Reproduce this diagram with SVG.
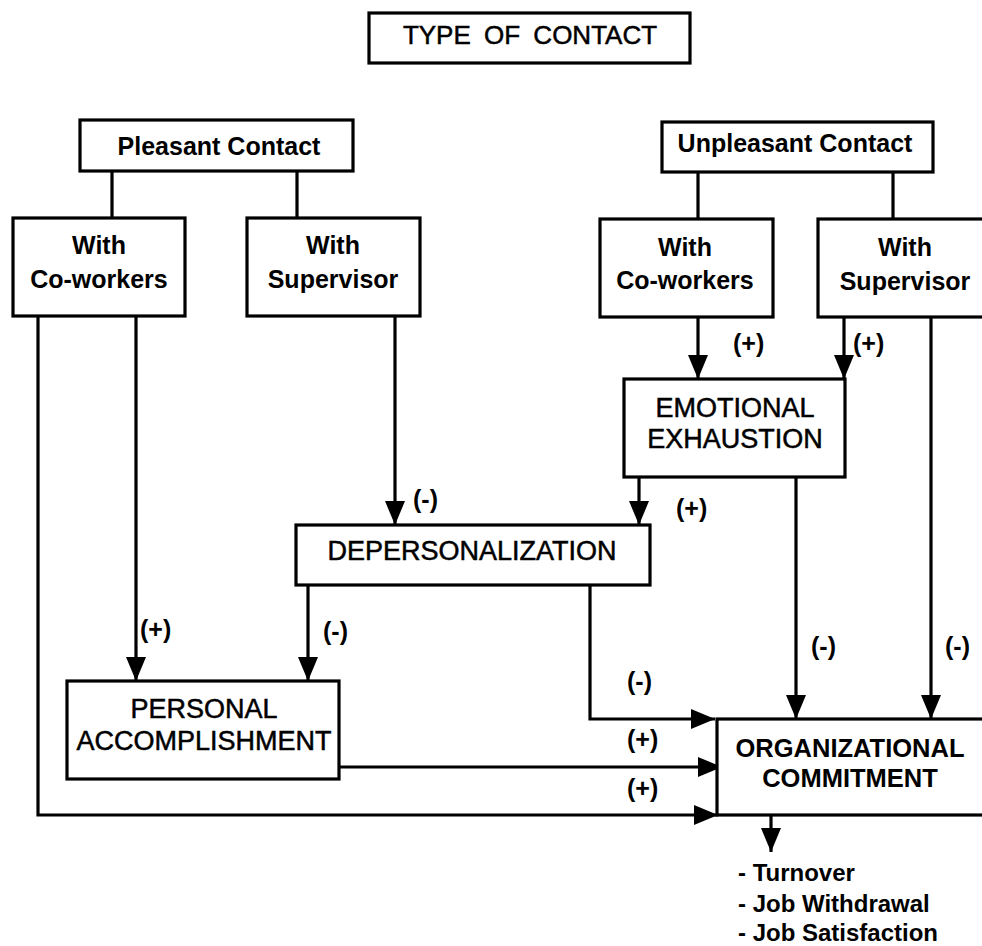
<svg xmlns="http://www.w3.org/2000/svg" width="982" height="946" viewBox="0 0 982 946">
<style>
.box{fill:#fff;stroke:#000;stroke-width:3.2}
.ln{fill:none;stroke:#000;stroke-width:3.2}
.t{font-family:"Liberation Sans",Arial,sans-serif;fill:#000}
.b{font-weight:bold;font-size:25px}
.r{font-size:27px;stroke:#000;stroke-width:0.5}
.m{text-anchor:middle}
.s{font-family:"Liberation Sans",Arial,sans-serif;font-weight:bold;font-size:25px;fill:#000}
.o{font-family:"Liberation Sans",Arial,sans-serif;font-weight:bold;font-size:24px;fill:#000}
</style>
<defs>
<marker id="ah" markerUnits="userSpaceOnUse" markerWidth="26" markerHeight="22" refX="24" refY="10" orient="auto">
<path d="M0,0 L24,10 L0,20 Z" fill="#000"/>
</marker>
</defs>
<rect width="982" height="946" fill="#fff"/>
<g id="connectors">
<path class="ln" d="M112,171 V218 M297,171 V218 M698,172 V219 M893,172 V219"/>
<path class="ln" d="M38,316 V815 H718" marker-end="url(#ah)"/>
<path class="ln" d="M136,316 V681" marker-end="url(#ah)"/>
<path class="ln" d="M395,316 V525" marker-end="url(#ah)"/>
<path class="ln" d="M308,585 V681" marker-end="url(#ah)"/>
<path class="ln" d="M590,585 V719 H715" marker-end="url(#ah)"/>
<path class="ln" d="M331,767 H722" marker-end="url(#ah)"/>
<path class="ln" d="M698,317 V379" marker-end="url(#ah)"/>
<path class="ln" d="M844,317 V379" marker-end="url(#ah)"/>
<path class="ln" d="M639,477 V525" marker-end="url(#ah)"/>
<path class="ln" d="M796,477 V719" marker-end="url(#ah)"/>
<path class="ln" d="M931,317 V719" marker-end="url(#ah)"/>
<path class="ln" d="M771,815 V852" marker-end="url(#ah)"/>
<text class="s" x="140" y="638">(+)</text>
<text class="s" x="413" y="508">(-)</text>
<text class="s" x="323" y="640">(-)</text>
<text class="s" x="627" y="690">(-)</text>
<text class="s" x="627" y="748">(+)</text>
<text class="s" x="627" y="797">(+)</text>
<text class="s" x="733" y="352">(+)</text>
<text class="s" x="853" y="352">(+)</text>
<text class="s" x="676" y="517">(+)</text>
<text class="s" x="811" y="655">(-)</text>
<text class="s" x="945" y="655">(-)</text>
</g>
<g id="title">
<rect class="box" x="369" y="13" width="321" height="50" stroke-width="3.6"/>
<text class="t m" x="530" y="44" font-size="26" word-spacing="6" stroke="#000" stroke-width="0.5">TYPE OF CONTACT</text>
</g>
<g id="pleasant">
<rect class="box" x="80" y="120" width="273" height="51"/>
<text class="t b m" x="219" y="155">Pleasant Contact</text>
</g>
<g id="unpleasant">
<rect class="box" x="662" y="122" width="271" height="50"/>
<text class="t b m" x="795" y="152">Unpleasant Contact</text>
</g>
<g id="p-coworkers">
<rect class="box" x="13" y="218" width="172" height="98"/>
<text class="t b m" x="99" y="254">With</text>
<text class="t b m" x="99" y="288">Co-workers</text>
</g>
<g id="p-supervisor">
<rect class="box" x="247" y="218" width="173" height="98"/>
<text class="t b m" x="333" y="254">With</text>
<text class="t b m" x="333" y="288">Supervisor</text>
</g>
<g id="u-coworkers">
<rect class="box" x="600" y="219" width="173" height="98"/>
<text class="t b m" x="685" y="256">With</text>
<text class="t b m" x="685" y="289">Co-workers</text>
</g>
<g id="u-supervisor">
<rect class="box" x="818" y="219" width="170" height="98"/>
<text class="t b m" x="905" y="256">With</text>
<text class="t b m" x="905" y="290">Supervisor</text>
</g>
<g id="emotional">
<rect class="box" x="624" y="379" width="221" height="98"/>
<text class="t r m" x="735" y="417">EMOTIONAL</text>
<text class="t r m" x="735" y="448">EXHAUSTION</text>
</g>
<g id="depersonalization">
<rect class="box" x="296" y="525" width="354" height="60"/>
<text class="t r m" x="472" y="560">DEPERSONALIZATION</text>
</g>
<g id="personal">
<rect class="box" x="67" y="681" width="272" height="98"/>
<text class="t r m" x="204" y="718">PERSONAL</text>
<text class="t r m" x="204" y="750">ACCOMPLISHMENT</text>
</g>
<g id="organizational">
<rect class="box" x="717" y="719" width="272" height="96"/>
<text class="t m" x="850" y="757" font-size="25.5" font-weight="bold">ORGANIZATIONAL</text>
<text class="t m" x="850" y="787" font-size="25.5" font-weight="bold">COMMITMENT</text>
</g>
<g id="outcomes">
<text class="o" x="738" y="881">- Turnover</text>
<text class="o" x="738" y="912">- Job Withdrawal</text>
<text class="o" x="738" y="941">- Job Satisfaction</text>
</g>
</svg>
